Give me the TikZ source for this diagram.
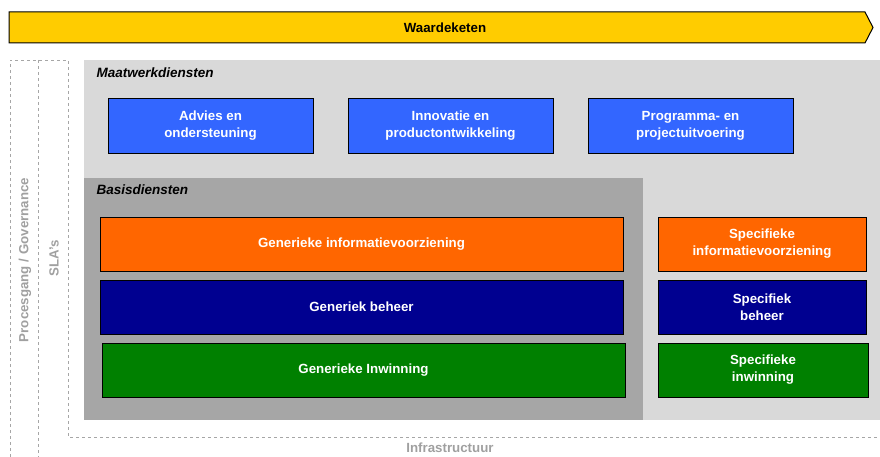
\documentclass[tikz,border=0pt]{standalone}
\usepackage{fontspec}
\setmainfont{Liberation Sans}
\usepackage{tikz}
\usetikzlibrary{positioning}
\definecolor{geel}{HTML}{FFCC00}
\definecolor{lichtgrijs}{HTML}{D9D9D9}
\definecolor{donkergrijs}{HTML}{A6A6A6}
\definecolor{tekstgrijs}{HTML}{A0A0A0}
\definecolor{lijngrijs}{HTML}{A6A6A6}
\definecolor{blauw}{HTML}{3366FF}
\definecolor{oranje}{HTML}{FF6600}
\definecolor{marine}{HTML}{000090}
\definecolor{groen}{HTML}{008000}
\begin{document}
\begin{tikzpicture}
[x=1pt,y=-1pt,%%%%%%%%%%%%%%%%%%%%%%%%%%%%%%
blok/.style={rectangle,draw=black,line width=0.9pt,text=white,font=\bfseries\fontsize{13.3}{17}\selectfont,align=center,inner sep=0pt},
kop/.style={anchor=west,font=\bfseries\itshape\fontsize{13.5}{16}\selectfont},
grijstekst/.style={text=tekstgrijs,font=\bfseries\fontsize{13.3}{16}\selectfont},
streep/.style={draw=lijngrijs,dashed,line width=0.7pt},
]%%%%%%%%%%%%%%%%%%%%%%%%%%%%%%
\useasboundingbox (0,0) rectangle (880,457);
% waardeketen
\draw[fill=geel,line width=1pt] (9,12) -- (865,12) -- (873,27.5) -- (865,43) -- (9,43) -- cycle;
\node[font=\bfseries\fontsize{13.3}{16}\selectfont] (keten) at (445,28) {Waardeketen};
% vlakken
\fill[lichtgrijs] (84,60) rectangle (880,420);
\fill[donkergrijs] (84,178) rectangle (643,420);
\node[kop] (maatwerk) at (93,73) {Maatwerkdiensten};
\node[kop] (basis) at (93,190) {Basisdiensten};
% kaders
\coordinate (lb) at (10,60);
\coordinate (mb) at (38,60);
\coordinate (rb) at (68,60);
\coordinate (lo) at (10,457);
\coordinate (mo) at (38,457);
\coordinate (ro) at (68,437);
\coordinate (eind) at (880,437);
\draw[streep] (lo) -- (lb) -- (rb) -- (ro) -- (eind);
\draw[streep] (mb) -- (mo);
\node[grijstekst,rotate=90] (proces) at (25,260) {Procesgang / Governance};
\node[grijstekst,rotate=90] (sla) at (54,258) {SLA's};
\node[grijstekst] (infra) at (450,448) {Infrastructuur};
% maatwerkdiensten
\node[blok,fill=blauw,minimum width=205pt,minimum height=55pt] (advies) at (210.5,125.5) {Advies en\\ondersteuning};
\node[blok,fill=blauw,minimum width=205pt,minimum height=55pt] (innovatie) at (450.5,125.5) {Innovatie en\\productontwikkeling};
\node[blok,fill=blauw,minimum width=205pt,minimum height=55pt] (programma) at (690.5,125.5) {Programma- en\\projectuitvoering};
% basisdiensten
\node[blok,fill=oranje,minimum width=523pt,minimum height=54pt] (geninfo) at (361.5,244) {Generieke informatievoorziening};
\node[blok,fill=marine,minimum width=523pt,minimum height=54pt] (genbeheer) at (361.5,307) {Generiek beheer};
\node[blok,fill=groen,minimum width=523pt,minimum height=54pt] (geninwin) at (363.5,370) {Generieke Inwinning};
% specifiek
\node[blok,fill=oranje,minimum width=208pt,minimum height=54pt] (specinfo) at (762,244) {Specifieke\\informatievoorziening};
\node[blok,fill=marine,minimum width=208pt,minimum height=54pt] (specbeheer) at (762,307) {Specifiek\\beheer};
\node[blok,fill=groen,minimum width=210pt,minimum height=54pt] (specinwin) at (763,370) {Specifieke\\inwinning};
\end{tikzpicture}
\end{document}
